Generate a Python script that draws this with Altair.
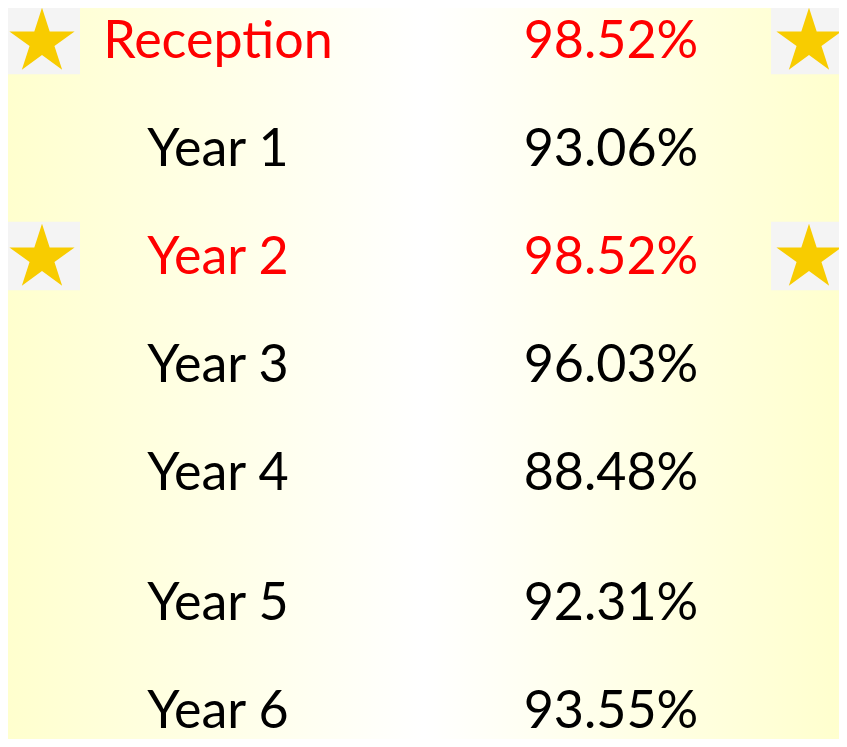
import altair as alt
import pandas as pd

# ---- data ----
grades = ["Reception", "Year 1", "Year 2", "Year 3", "Year 4", "Year 5", "Year 6"]
attendance = [98.52, 93.06, 98.52, 96.03, 88.48, 92.31, 93.55]

# ---- layout / style ----
W, H = 831, 731
FONT = "Lato"
FONT_SIZE = 52
COL_STAR_L, COL_LABEL, COL_VALUE, COL_STAR_R = 34, 210, 603, 801
GOLD = "#F8CC00"
BOX = "#F4F4F4"
STAR_PATH = ("M0,-1L0.2245,-0.309L0.951,-0.309L0.363,0.118L0.588,0.809L0,0.382"
             "L-0.588,0.809L-0.363,0.118L-0.951,-0.309L-0.2245,-0.309Z")
BOX_PATH = "M-1,-0.9L1,-0.9L1,0.9L-1,0.9Z"
ROW_PX, TOP_PX = 108, 50

df = pd.DataFrame({"grade": grades, "attendance": attendance})
df["order"] = range(len(df))
# slightly larger gap before the last two rows (layout only)
df["row"] = [i + (0.2 if i >= 5 else 0) for i in df["order"]]
df["top"] = df["attendance"] == df["attendance"].max()

d0 = -TOP_PX / ROW_PX
yscale = alt.Scale(domain=[d0, d0 + H / ROW_PX], reverse=True, nice=False, zero=False)
Y = alt.Y("row:Q", scale=yscale, axis=None)

base = alt.Chart(df)

bg = alt.Chart(pd.DataFrame({"a": [0]})).mark_rect(
    color=alt.LinearGradient(
        gradient="linear", x1=0, x2=1, y1=0, y2=0,
        stops=[alt.GradientStop(color="#FFFFCE", offset=0),
               alt.GradientStop(color="#FFFFFF", offset=0.5),
               alt.GradientStop(color="#FFFFCE", offset=1)],
    )
).encode(x=alt.value(0), x2=alt.value(W), y=alt.value(0), y2=alt.value(H))

color_cond = alt.condition(alt.datum.top, alt.value("#FF0000"), alt.value("#000000"))

labels = base.mark_text(font=FONT, fontSize=FONT_SIZE, align="center",
                        baseline="alphabetic").encode(
    x=alt.value(COL_LABEL), y=Y, text="grade:N", color=color_cond)

values = base.transform_calculate(
    txt="format(datum.attendance, '.2f') + '%'"
).mark_text(font=FONT, fontSize=FONT_SIZE, align="center",
            baseline="alphabetic").encode(
    x=alt.value(COL_VALUE), y=Y, text="txt:N", color=color_cond)

stars_base = base.transform_filter(alt.datum.top)

layers = [bg, labels, values]
for cx in (COL_STAR_L, COL_STAR_R):
    layers.append(stars_base.mark_point(shape=BOX_PATH, filled=True, fill=BOX,
                                        opacity=1, strokeWidth=0, size=5776,
                                        yOffset=-18).encode(x=alt.value(cx), y=Y))
    layers.append(stars_base.mark_point(shape=STAR_PATH, filled=True, fill=GOLD,
                                        opacity=1, strokeWidth=0, size=4700,
                                        yOffset=-16).encode(x=alt.value(cx), y=Y))

chart = alt.layer(*layers).properties(
    width=W, height=H, padding=0, autosize=alt.AutoSizeParams(type="none")
).configure_view(stroke=None)

chart.save("out.html", embed_options={"renderer": "svg", "actions": False})
